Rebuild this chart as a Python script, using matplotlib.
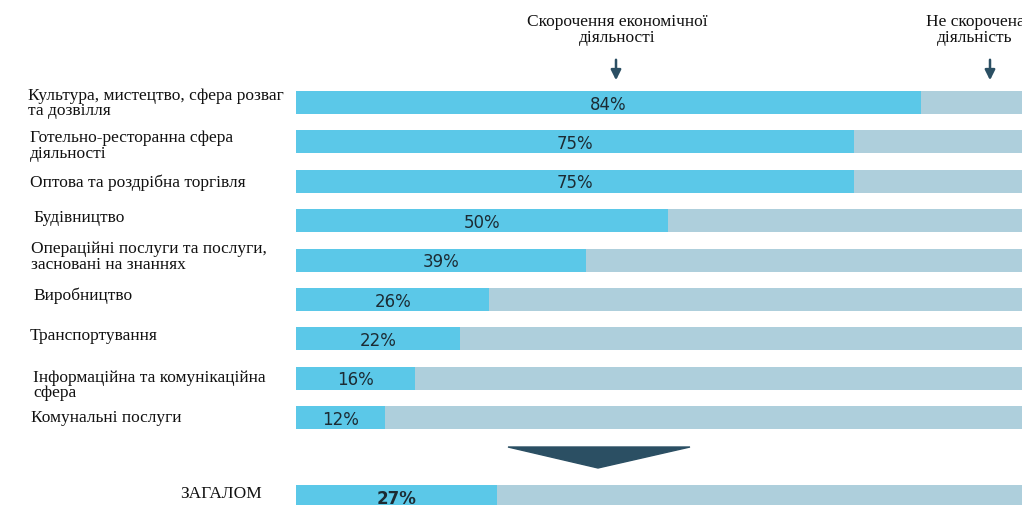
import matplotlib.pyplot as plt
import matplotlib.transforms as mtransforms
from matplotlib.patches import Polygon

# data
sectors = [
    "Культура, мистецтво, сфера розваг\nта дозвілля",
    "Готельно-ресторанна сфера\nдіяльності",
    "Оптова та роздрібна торгівля",
    "Будівництво",
    "Операційні послуги та послуги,\nзасновані на знаннях",
    "Виробництво",
    "Транспортування",
    "Інформаційна та комунікаційна\nсфера",
    "Комунальні послуги",
]
reduced = [84, 75, 75, 50, 39, 26, 22, 16, 12]
total_label = "ЗАГАЛОМ"
total_value = 27
header_left = "Скорочення економічної\nдіяльності"
header_right = "Не скорочена\nдіяльність"

blue = "#5bc8e8"
grey = "#aecfdc"
dark = "#2b4f63"

W, H = 1022, 506
fig = plt.figure(figsize=(W / 100, H / 100), dpi=100)
x0 = 296
ax = fig.add_axes([x0 / W, 0, 1 - x0 / W, 1])
ax.set_xlim(0, (W - x0) / 7.44)
ax.set_ylim(10.216, -2.627)
ax.axis("off")

ypos = list(range(len(sectors))) + [10]
values = reduced + [total_value]
rest = [100 - v for v in values]
h = 0.585
ax.barh(ypos, values, height=h, color=blue, linewidth=0)
ax.barh(ypos, rest, left=values, height=h, color=grey, linewidth=0)

for i, v in zip(ypos, values):
    bold = i == 10
    ax.text(v / 2, i + 0.03, f"{v}%", ha="center", va="center", fontsize=12,
            family="DejaVu Sans", color="#1c2b33",
            fontweight="bold" if bold else "normal")

# labels on the left
trans = mtransforms.blended_transform_factory(fig.transFigure, ax.transData)
label_x = [28, 30, 30, 33, 31, 33, 30, 33, 31]
label_dy = [0, 0.08, 0, -0.1, -0.1, -0.12, -0.1, 0.15, -0.03]
for i, (lab, lx, dy) in enumerate(zip(sectors, label_x, label_dy)):
    ax.text(lx / W, i + dy, lab, transform=trans, ha="left", va="center",
            fontsize=12.5, family="Liberation Serif", color="#111111",
            linespacing=0.95)
ax.text(180 / W, 10 - 0.08, total_label, transform=trans, ha="left", va="center",
        fontsize=12.5, family="Liberation Serif", color="#111111")

# headers with arrows
for cx, txt, tx in [(616, header_left, 617), (990, header_right, 975)]:
    fig.text(tx / W, 1 - 30 / H, txt, ha="center", va="center", fontsize=12.5,
             family="Liberation Serif", color="#111111", linespacing=1.0)
    ax.annotate("", xy=(cx / W, 1 - 84 / H), xytext=(cx / W, 1 - 58 / H),
                xycoords="figure fraction", textcoords="figure fraction",
                arrowprops=dict(arrowstyle="-|>", color=dark, lw=1.8,
                                mutation_scale=15))

# funnel triangle
tri = Polygon([[508 / W, 1 - 448 / H], [690 / W, 1 - 448 / H], [598 / W, 1 - 469 / H]],
              closed=True, color=dark, transform=fig.transFigure)
fig.patches.append(tri)

fig.savefig("out.png", dpi=100)
